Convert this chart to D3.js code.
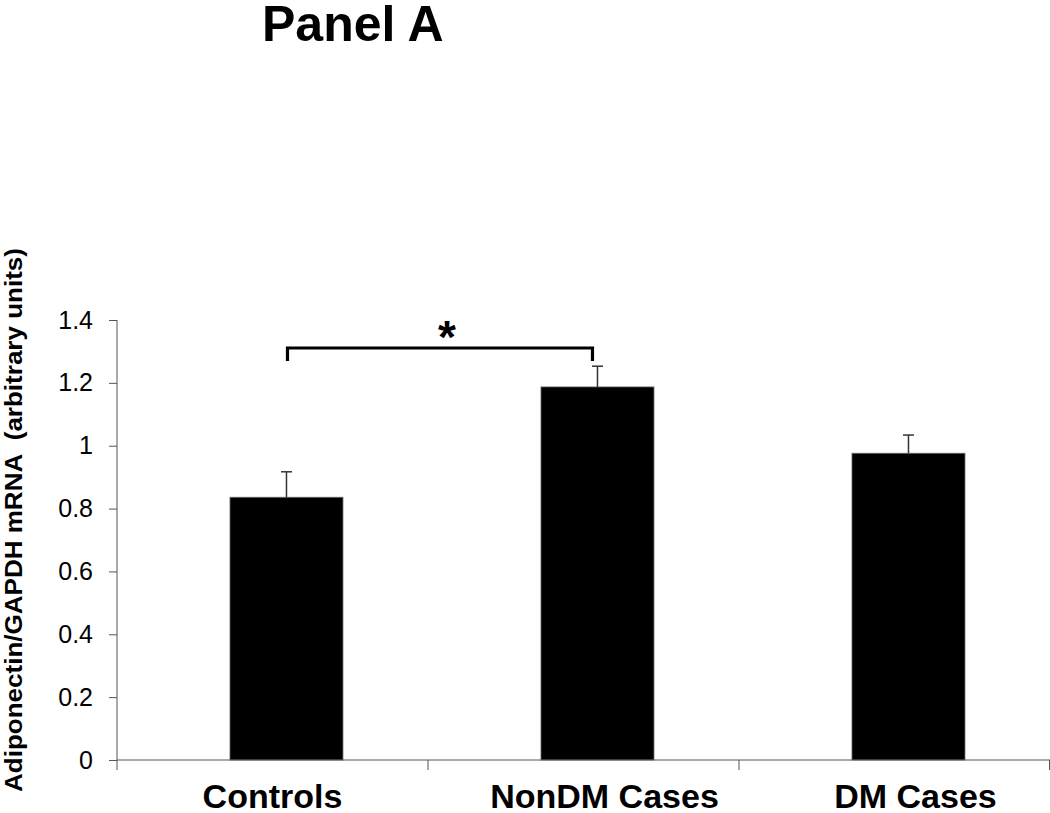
<!DOCTYPE html>
<html>
<head>
<meta charset="utf-8">
<script src="https://cdn.jsdelivr.net/npm/d3@7"></script>
<style>
  html, body { margin: 0; padding: 0; background: #fff; }
  svg { display: block; }
  text { font-family: "Liberation Sans", Arial, sans-serif; }
</style>
</head>
<body>
<svg id="chart" width="1050" height="813"></svg>
<script>
const categories = ["Controls", "NonDM Cases", "DM Cases"];
const means = [0.836, 1.187, 0.976];
const errUpper = [0.917, 1.253, 1.034];
const yTicks = [0, 0.2, 0.4, 0.6, 0.8, 1, 1.2, 1.4];
const title = "Panel A";
const yTitle = "Adiponectin/GAPDH mRNA  (arbitrary units)";
const sigLabel = "*";

const svg = d3.select("#chart");
const x = d3.scaleBand().domain(categories).range([117, 1050]).padding(0);
const y = d3.scaleLinear().domain([0, 1.4]).range([760, 320]);
const bw = x.bandwidth();
const barStart = bw * 0.3633, barW = bw * 0.3633;
const barCenter = c => x(c) + barStart + barW / 2;

// title
svg.append("text").attr("x", 262).attr("y", 41)
  .attr("font-size", 50).attr("font-weight", "bold").attr("fill", "#000").text(title);

// bars
svg.append("g").selectAll("rect").data(categories).join("rect")
  .attr("x", c => x(c) + barStart).attr("width", barW)
  .attr("y", (c, i) => y(means[i])).attr("height", (c, i) => y(0) - y(means[i]))
  .attr("fill", "#000").attr("stroke", "#666").attr("stroke-width", 0.8);

// error bars
const eg = svg.append("g").attr("stroke", "#333").attr("stroke-width", 1.5);
categories.forEach((c, i) => {
  const cx = barCenter(c);
  eg.append("line").attr("x1", cx).attr("x2", cx).attr("y1", y(means[i])).attr("y2", y(errUpper[i]));
  eg.append("line").attr("x1", cx - 5.5).attr("x2", cx + 5.5).attr("y1", y(errUpper[i])).attr("y2", y(errUpper[i]));
});

// y axis
const yAxis = d3.axisLeft(y).tickValues(yTicks).tickSize(8).tickPadding(16)
  .tickFormat(d => d3.format("")(d));
const gy = svg.append("g").attr("transform", "translate(117,0)").call(yAxis);
gy.select(".domain").attr("stroke", "#555").attr("d", "M0,320V760");
gy.selectAll(".tick line").attr("stroke", "#555");
gy.selectAll(".tick text").attr("font-size", 25).attr("fill", "#000")
  .attr("font-family", "'Liberation Sans', Arial, sans-serif");

// x axis
const gx = svg.append("g").attr("transform", "translate(0,760)");
gx.append("line").attr("x1", 117).attr("x2", 1050).attr("y1", 0).attr("y2", 0).attr("stroke", "#555");
const edges = categories.map(c => x(c)).concat([x(categories[categories.length - 1]) + bw]);
gx.selectAll(".xt").data(edges).join("line").attr("class", "xt")
  .attr("x1", d => Math.min(d, 1049.5)).attr("x2", d => Math.min(d, 1049.5))
  .attr("y1", 0).attr("y2", 10).attr("stroke", "#555");
const labelDx = [0, 21, 21];
gx.selectAll(".xl").data(categories).join("text").attr("class", "xl")
  .attr("x", (c, i) => x(c) + bw / 2 + labelDx[i]).attr("y", 48)
  .attr("text-anchor", "middle").attr("font-size", 34).attr("font-weight", "bold")
  .attr("fill", "#000").text(c => c);

// y title
svg.append("text").attr("transform", "translate(22,520) rotate(-90)")
  .attr("text-anchor", "middle").attr("font-size", 24).attr("font-weight", "bold")
  .attr("textLength", 544).attr("lengthAdjust", "spacingAndGlyphs")
  .style("white-space", "pre").attr("fill", "#000").text(yTitle);

// significance bracket
const bx1 = barCenter(categories[0]) + 1, bx2 = barCenter(categories[1]) - 5;
svg.append("path")
  .attr("d", `M${bx1},361V348H${bx2}V361`)
  .attr("fill", "none").attr("stroke", "#000").attr("stroke-width", 3.2);
svg.append("text").attr("x", 447).attr("y", 353).attr("text-anchor", "middle")
  .attr("font-size", 46).attr("font-weight", "bold").attr("fill", "#000").text(sigLabel);
</script>
</body>
</html>
